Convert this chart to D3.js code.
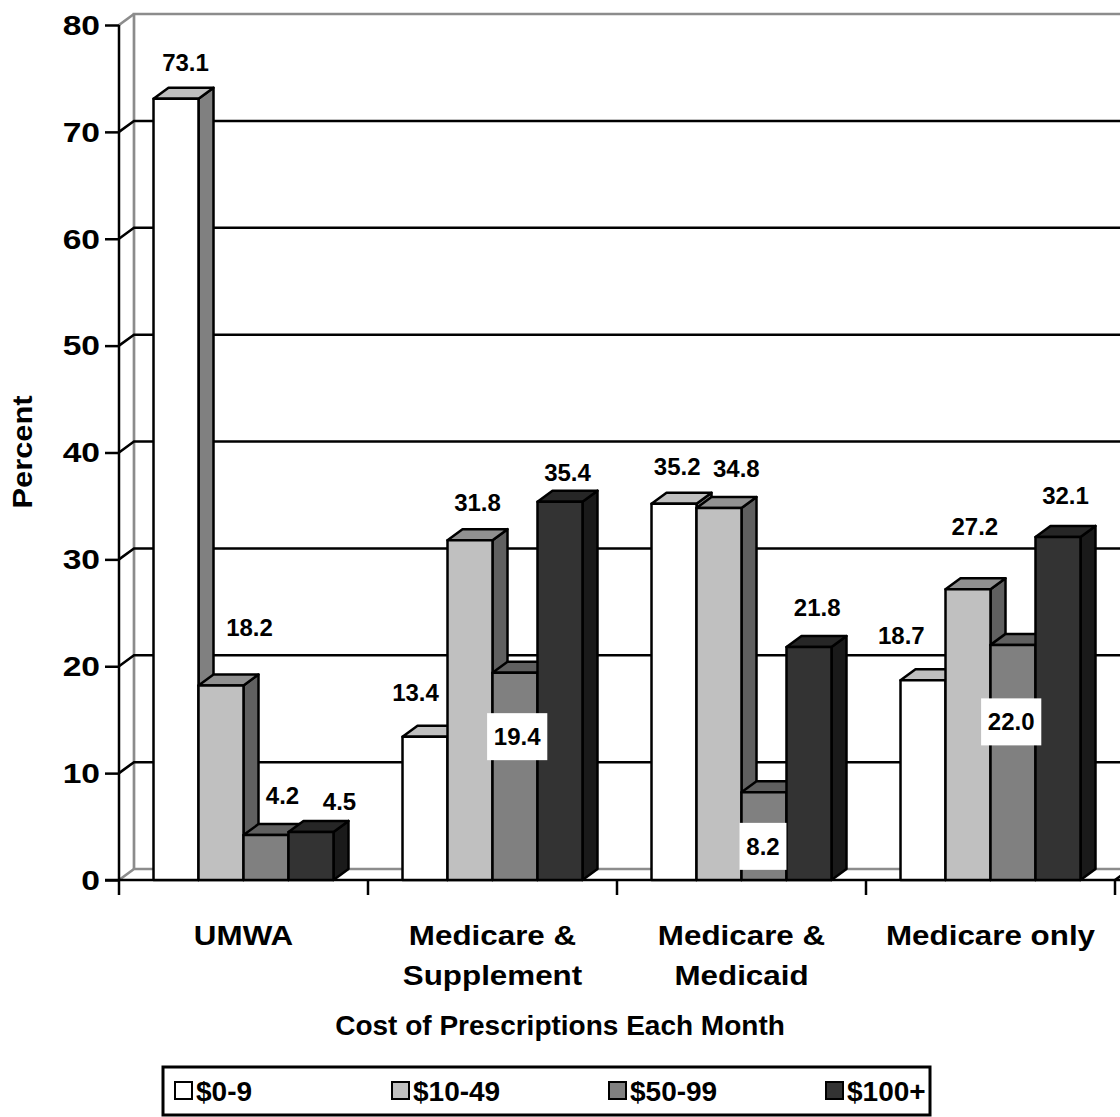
<!DOCTYPE html>
<html>
<head>
<meta charset="utf-8">
<script src="https://cdn.jsdelivr.net/npm/d3@7"></script>
<style>
  html, body { margin: 0; padding: 0; background: #fff; }
  svg { display: block; }
  text { font-family: "Liberation Sans", Arial, sans-serif; font-weight: bold; fill: #000; }
</style>
</head>
<body>
<svg id="chart" width="1120" height="1117"></svg>
<script>
// ---- data ----
const categories = ["UMWA", "Medicare & Supplement", "Medicare & Medicaid", "Medicare only"];
const categoryLines = [["UMWA"], ["Medicare &", "Supplement"], ["Medicare &", "Medicaid"], ["Medicare only"]];
const seriesNames = ["$0-9", "$10-49", "$50-99", "$100+"];
const values0to9   = [73.1, 13.4, 35.2, 18.7];
const values10to49 = [18.2, 31.8, 34.8, 27.2];
const values50to99 = [4.2, 19.4, 8.2, 22.0];
const values100plus = [4.5, 35.4, 21.8, 32.1];
const yTicks = [0, 10, 20, 30, 40, 50, 60, 70, 80];
const yTitle = "Percent";
const xTitle = "Cost of Prescriptions Each Month";

// ---- layout / style (not data) ----
const seriesValues = [values0to9, values10to49, values50to99, values100plus];
const fills = ["#ffffff", "#c0c0c0", "#808080", "#333333"];
// label offsets relative to bar front-top centre: [dx, dy, boxed]
const labelLayout = [
  [[9.5, -36, 0], [-9.5, -44, 0], [3.2, -37, 0], [-21.7, -45, 0]],
  [[28.5, -57.5, 0], [7.5, -38, 0], [17.3, -39, 0], [6.8, -62.6, 0]],
  [[16.5, -40, 0], [2.2, 64, 1], [-1, 54, 1], [-1.8, 77, 1]],
  [[28.5, -30, 0], [7.5, -29, 0], [8.2, -39, 0], [7.5, -41, 0]]
];
const DX = 15, DY = -11;
const plotLeft = 119, plotRight = 1115, yTop = 25, yBottom = 880;
const axisFont = 28;

const svg = d3.select("#chart");
svg.append("rect").attr("width", 1120).attr("height", 1117).attr("fill", "#fff");

const y = d3.scaleLinear().domain([0, 80]).range([yBottom, yTop]);
const x0 = d3.scaleBand().domain(categories).range([plotLeft, plotRight]);
const x1 = d3.scaleBand().domain(seriesNames).range([0, x0.bandwidth()]).paddingOuter(0.767);

function shade(c, k) {
  const col = d3.rgb(c);
  return d3.rgb(col.r * k, col.g * k, col.b * k).formatHex();
}
function stretchedText(parent, x, yy, sx, txt, anchor, size) {
  const g = parent.append("g").attr("transform", `translate(${x},${yy}) scale(${sx},1)`);
  return g.append("text").attr("text-anchor", anchor).attr("dy", "0.35em").attr("font-size", size).text(txt);
}

// ---- walls ----
const gray = "#8c8c8c";
const wall = svg.append("g").attr("fill", "none").attr("stroke", gray).attr("stroke-width", 2.7);
wall.append("path").attr("d", `M${plotLeft},${y(0)} L${plotLeft + DX},${y(0) + DY} L1130,${y(0) + DY}`);
wall.append("path").attr("d", `M${plotLeft + DX},${y(0) + DY} L${plotLeft + DX},${y(80) + DY} L1130,${y(80) + DY}`);
wall.append("path").attr("d", `M${plotLeft},${y(80)} L${plotLeft + DX},${y(80) + DY}`);

// ---- gridlines ----
const grid = svg.append("g").attr("fill", "none").attr("stroke", "#000").attr("stroke-width", 2.5);
grid.selectAll("path").data(yTicks.filter(t => t > 0 && t < 80)).join("path")
  .attr("d", t => `M${plotLeft},${y(t)} L${plotLeft + DX},${y(t) + DY} L1130,${y(t) + DY}`);

// ---- axes ----
const yAxis = d3.axisLeft(y).tickValues(yTicks).tickSize(14).tickFormat("");
const gy = svg.append("g").attr("transform", `translate(${plotLeft},0)`).call(yAxis);
gy.select(".domain").attr("stroke", "#000").attr("stroke-width", 2.5).attr("d", `M0,${yTop}V${yBottom}`);
gy.selectAll(".tick line").attr("stroke", "#000").attr("stroke-width", 2.5);
const tickLab = svg.append("g");
yTicks.forEach(t => stretchedText(tickLab, 100, y(t), 1.2, d3.format("d")(t), "end", axisFont));

const xAxis = d3.axisBottom(x0).tickSize(0).tickFormat("");
const gx = svg.append("g").attr("transform", `translate(0,${yBottom})`).call(xAxis);
gx.select(".domain").attr("stroke", "#000").attr("stroke-width", 2.5).attr("d", `M105,0H1120`);
const boundaries = categories.map(c => x0(c)).concat([plotRight]);
gx.selectAll("line.bt").data(boundaries).join("line").attr("class", "bt")
  .attr("x1", d => d).attr("x2", d => d).attr("y1", 0).attr("y2", 15)
  .attr("stroke", "#000").attr("stroke-width", 2.5);
gx.append("path").attr("d", `M${plotRight},0 L${plotRight + DX},${DY}`).attr("stroke", "#000").attr("stroke-width", 2.5).attr("fill", "none");

// category labels
const catG = svg.append("g");
categories.forEach((c, i) => {
  categoryLines[i].forEach((ln, j) => {
    stretchedText(catG, x0(c) + x0.bandwidth() / 2, 935 + j * 40, 1.12, ln, "middle", axisFont);
  });
});

// axis titles
svg.append("g").attr("transform", "translate(22,452) rotate(-90) scale(1.1,1)")
  .append("text").attr("text-anchor", "middle").attr("dy", "0.35em").attr("font-size", axisFont).text(yTitle);
stretchedText(svg, 560, 1025, 1.0, xTitle, "middle", axisFont);

// ---- bars ----
const barsG = svg.append("g");
categories.forEach((c, ci) => {
  seriesNames.forEach((s, si) => {
    const v = seriesValues[si][ci];
    const bx = x0(c) + x1(s), bw = x1.bandwidth();
    const top = y(v), base = y(0);
    const g = barsG.append("g").attr("stroke", "#000").attr("stroke-width", 2.5).attr("stroke-linejoin", "round");
    g.append("path").attr("fill", shade(fills[si], 0.5))
      .attr("d", `M${bx + bw},${top} L${bx + bw + DX},${top + DY} L${bx + bw + DX},${base + DY} L${bx + bw},${base} Z`);
    g.append("path").attr("fill", shade(fills[si], 0.75))
      .attr("d", `M${bx},${top} L${bx + DX},${top + DY} L${bx + bw + DX},${top + DY} L${bx + bw},${top} Z`);
    g.append("rect").attr("x", bx).attr("y", top).attr("width", bw).attr("height", base - top).attr("fill", fills[si]);
  });
});

// ---- value labels ----
const labG = svg.append("g");
categories.forEach((c, ci) => {
  seriesNames.forEach((s, si) => {
    const v = seriesValues[si][ci];
    const [ldx, ldy, boxed] = labelLayout[si][ci];
    const cx = x0(c) + x1(s) + x1.bandwidth() / 2 + ldx;
    const cy = y(v) + ldy;
    const txt = d3.format(".1f")(v);
    if (boxed) {
      const w = txt.length * 13.3 + 7;
      labG.append("rect").attr("x", cx - w / 2).attr("y", cy - 23.5).attr("width", w).attr("height", 47).attr("fill", "#fff");
    }
    labG.append("text").attr("x", cx).attr("y", cy).attr("dy", "0.35em").attr("text-anchor", "middle")
      .attr("font-size", 24).text(txt);
  });
});

// ---- legend ----
const lg = svg.append("g");
lg.append("rect").attr("x", 163).attr("y", 1067).attr("width", 767).attr("height", 48)
  .attr("fill", "#fff").attr("stroke", "#000").attr("stroke-width", 3);
const lx = d3.scalePoint().domain(seriesNames).range([175, 826]);
seriesNames.forEach((s, si) => {
  const gx2 = lx(s);
  lg.append("rect").attr("x", gx2).attr("y", 1082).attr("width", 17).attr("height", 17)
    .attr("fill", fills[si]).attr("stroke", "#000").attr("stroke-width", 2);
  stretchedText(lg, gx2 + 21, 1091, 1.0, s, "start", 28);
});
</script>
</body>
</html>
